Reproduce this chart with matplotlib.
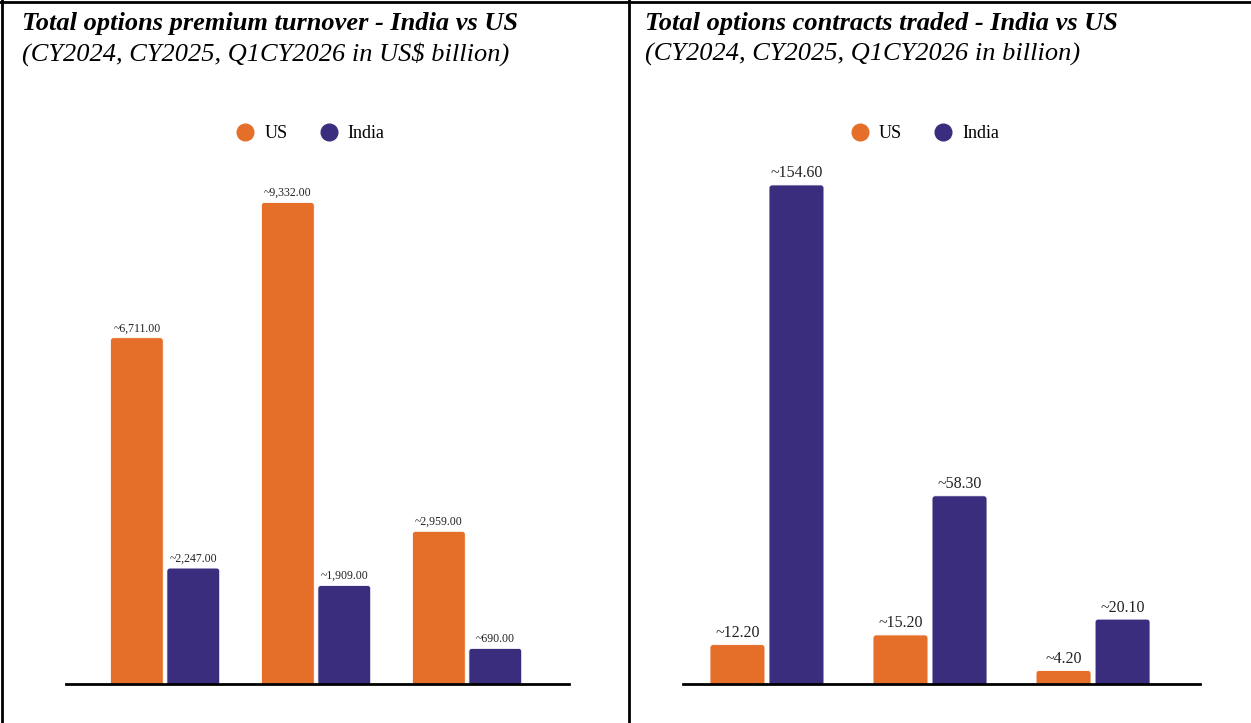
import matplotlib
matplotlib.use("Agg")
import matplotlib.pyplot as plt
from matplotlib.lines import Line2D
from matplotlib.patches import FancyBboxPatch

# data
periods = ["CY2024", "CY2025", "Q1CY2026"]
premium_us = [6711.0, 9332.0, 2959.0]
premium_india = [2247.0, 1909.0, 690.0]
contracts_us = [12.2, 15.2, 4.2]
contracts_india = [154.6, 58.3, 20.1]

ORANGE = "#E56F28"
PURPLE = "#3A2D7D"
FONT = "Liberation Serif"

W, H = 1251, 723
fig = plt.figure(figsize=(W / 100, H / 100), dpi=100)


def px_axes(x0, x1, y_top, y_base):
    """Axes placed by pixel coords (top-left origin)."""
    return fig.add_axes([x0 / W, (H - y_base) / H, (x1 - x0) / W, (y_base - y_top) / H])


def round_bars(ax, bars, r_px=3):
    """Swap plain bars for ones with rounded top corners."""
    bb = ax.get_window_extent()
    x0, x1 = ax.get_xlim()
    y0, y1 = ax.get_ylim()
    ppx = bb.width / (x1 - x0)
    ppy = bb.height / (y1 - y0)
    for b in bars:
        b.set_visible(False)
        x, w, h = b.get_x(), b.get_width(), b.get_height()
        ry = r_px / ppy
        p = FancyBboxPatch((x, -ry), w, h + ry,
                           boxstyle=f"round,pad=0,rounding_size={r_px / ppx}",
                           mutation_aspect=ppx / ppy,
                           fc=b.get_facecolor(), ec="white", lw=0.6, zorder=2)
        ax.add_patch(p)


def panel(ax, us, india, ylim, xlim, off, width, fmt, fs):
    xs = range(len(periods))
    ax.set_xlim(*xlim)
    ax.set_ylim(0, ylim)
    b1 = ax.bar([x - off for x in xs], us, width, color=ORANGE)
    b2 = ax.bar([x + off for x in xs], india, width, color=PURPLE)
    round_bars(ax, b1)
    round_bars(ax, b2)
    for bars, vals in ((b1, us), (b2, india)):
        for b, v in zip(bars, vals):
            ax.annotate("~" + fmt.format(v), (b.get_x() + b.get_width() / 2, v),
                        xytext=(0, 2.5), textcoords="offset points",
                        ha="center", va="bottom", fontsize=fs,
                        family=FONT, color="#222222")
    for s in ("top", "right", "left"):
        ax.spines[s].set_visible(False)
    ax.spines["bottom"].set_linewidth(2)
    ax.spines["bottom"].set_zorder(5)
    ax.set_xticks([])
    ax.set_yticks([])


ax1 = px_axes(66, 569, 150, 684)
panel(ax1, premium_us, premium_india, 534 / 0.0516, (-0.656, 2.675), 0.187, 0.35,
      "{:,.2f}", 8.5)
ax2 = px_axes(683, 1200, 150, 684)
panel(ax2, contracts_us, contracts_india, 534 / 3.228, (-0.515, 2.656), 0.181, 0.337,
      "{:.2f}", 11.5)

# legends
handles = [Line2D([], [], marker="o", ls="none", color=ORANGE, markersize=12),
           Line2D([], [], marker="o", ls="none", color=PURPLE, markersize=12)]
for cx in (310.5 / W, 925 / W):
    fig.legend(handles, ["US", "India"], loc="center", bbox_to_anchor=(cx, 1 - 134 / H),
               ncol=2, frameon=False, handlelength=1.0, handletextpad=0.55,
               columnspacing=1.8, borderpad=0, prop={"family": FONT, "size": 13})

# titles
titles = [
    (22, "Total options premium turnover - India vs US",
     "(CY2024, CY2025, Q1CY2026 in US$ billion)"),
    (645, "Total options contracts traded - India vs US",
     "(CY2024, CY2025, Q1CY2026 in billion)"),
]
for x, t, s in titles:
    fig.text(x / W, 1 - 30 / H, t, family=FONT, weight="bold", style="italic",
             fontsize=19, va="baseline", ha="left")
    fig.text(x / W, 1 - 61 / H, s, family=FONT, style="italic",
             fontsize=19, va="baseline", ha="left")

# table borders
for xy in (([1.5 / W, 1.5 / W], [0, 1]),
           ([629 / W, 629 / W], [0, 1]),
           ([0, 1], [1 - 1.5 / H, 1 - 1.5 / H])):
    fig.add_artist(Line2D(xy[0], xy[1], color="black", lw=2))

fig.savefig("out.png", dpi=100)
